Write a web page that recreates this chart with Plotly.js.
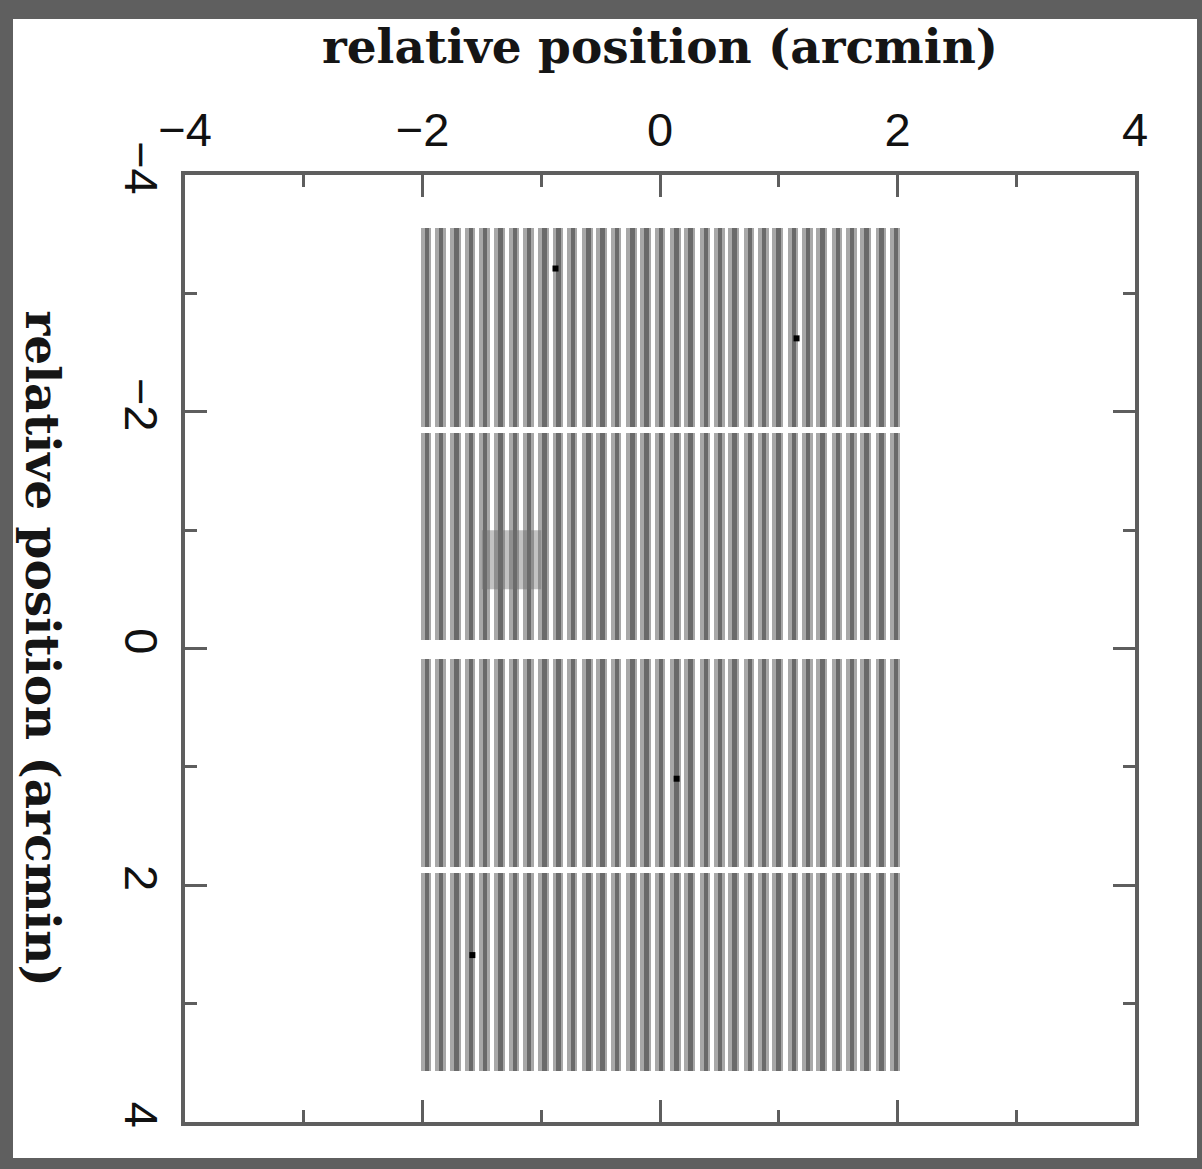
<!DOCTYPE html>
<html>
<head>
<meta charset="utf-8">
<script src="https://cdn.plot.ly/plotly-3.0.1.min.js"></script>
<style>
  html, body { margin: 0; padding: 0; background: #5f5f5f; width: 1202px; height: 1169px; overflow: hidden; }
  #chart { position: absolute; left: 13px; top: 19px; width: 1184px; height: 1139px; background: #fff; }
</style>
</head>
<body>
<div id="chart"></div>
<script>
// strip centres (arcmin)
const stripX = [-1.97, -1.85, -1.72, -1.60, -1.48, -1.35, -1.23, -1.11, -0.98, -0.86,
                -0.74, -0.61, -0.49, -0.37, -0.24, -0.12, 0.00, 0.13, 0.25, 0.38,
                0.50, 0.62, 0.75, 0.87, 0.99, 1.12, 1.24, 1.36, 1.49, 1.61,
                1.73, 1.86, 1.98];
// vertical extent of the four blocks of strips (arcmin)
const blockStart = [-3.55, -1.82, 0.09, 1.90];
const blockEnd   = [-1.87, -0.07, 1.85, 3.57];
// shaded box
const boxX = [-1.50, -1.00];
const boxY = [-1.00, -0.50];
// point sources
const dotX = [-0.88, 1.15, 0.14, -1.58];
const dotY = [-3.21, -2.62, 1.10, 2.59];
// ticks
const tickVals = [-4, -2, 0, 2, 4];
const tickText = ['\u22124', '\u22122', '0', '2', '4'];

const bx = [], bBase = [], bLen = [];
blockStart.forEach((s, i) => {
  stripX.forEach(x => { bx.push(x); bBase.push(s); bLen.push(blockEnd[i] - s); });
});

const traces = [
  { type: 'bar', x: bx, y: bLen, base: bBase, width: 0.09,
    marker: { color: '#a8a8a8', line: { width: 0 } }, hoverinfo: 'skip' },
  { type: 'bar', x: bx, y: bLen, base: bBase, width: 0.038, offset: -0.012,
    marker: { color: '#6a6a6a', line: { width: 0 } }, hoverinfo: 'skip' },
  { type: 'scatter', mode: 'lines', fill: 'toself',
    x: [boxX[0], boxX[1], boxX[1], boxX[0], boxX[0]],
    y: [boxY[0], boxY[0], boxY[1], boxY[1], boxY[0]],
    fillcolor: 'rgba(110,110,110,0.42)', line: { width: 0 }, hoverinfo: 'skip' },
  { type: 'scatter', mode: 'markers', x: dotX, y: dotY,
    marker: { symbol: 'square', size: 6, color: '#000' }, hoverinfo: 'skip' }
];

const axisCommon = {
  showgrid: false, zeroline: false, showline: true, linecolor: '#5e5e5e', linewidth: 4,
  mirror: 'allticks', ticks: 'inside', ticklen: 22, tickwidth: 3, tickcolor: '#5e5e5e',
  tickvals: tickVals, ticktext: tickText,
  minor: { ticks: 'inside', ticklen: 12, tickwidth: 3, tickcolor: '#5e5e5e', dtick: 1, showgrid: false },
  tickfont: { family: 'Liberation Sans, Arial, sans-serif', size: 47, color: '#111' },
  fixedrange: true
};

const titleFont = { family: 'DejaVu Serif, serif', size: 47, weight: 'bold', color: '#151515' };

const layout = {
  width: 1184, height: 1139,
  margin: { l: 172, r: 62, t: 156, b: 36 },
  paper_bgcolor: '#ffffff', plot_bgcolor: '#ffffff',
  showlegend: false, barmode: 'overlay', bargap: 0,
  xaxis: Object.assign({}, axisCommon, {
    range: [-4, 4], side: 'top', ticklabelstandoff: 6,
    title: { text: 'relative position (arcmin)', standoff: 26, font: titleFont }
  }),
  yaxis: Object.assign({}, axisCommon, {
    range: [4, -4], tickangle: 90, ticklabelstandoff: 0
  }),
  annotations: [{
    text: 'relative position (arcmin)', textangle: 90,
    xref: 'paper', yref: 'paper', x: -0.1505, y: 0.5,
    xanchor: 'center', yanchor: 'middle', showarrow: false,
    font: titleFont
  }]
};

Plotly.newPlot('chart', traces, layout, { staticPlot: true, displayModeBar: false });
</script>
</body>
</html>
